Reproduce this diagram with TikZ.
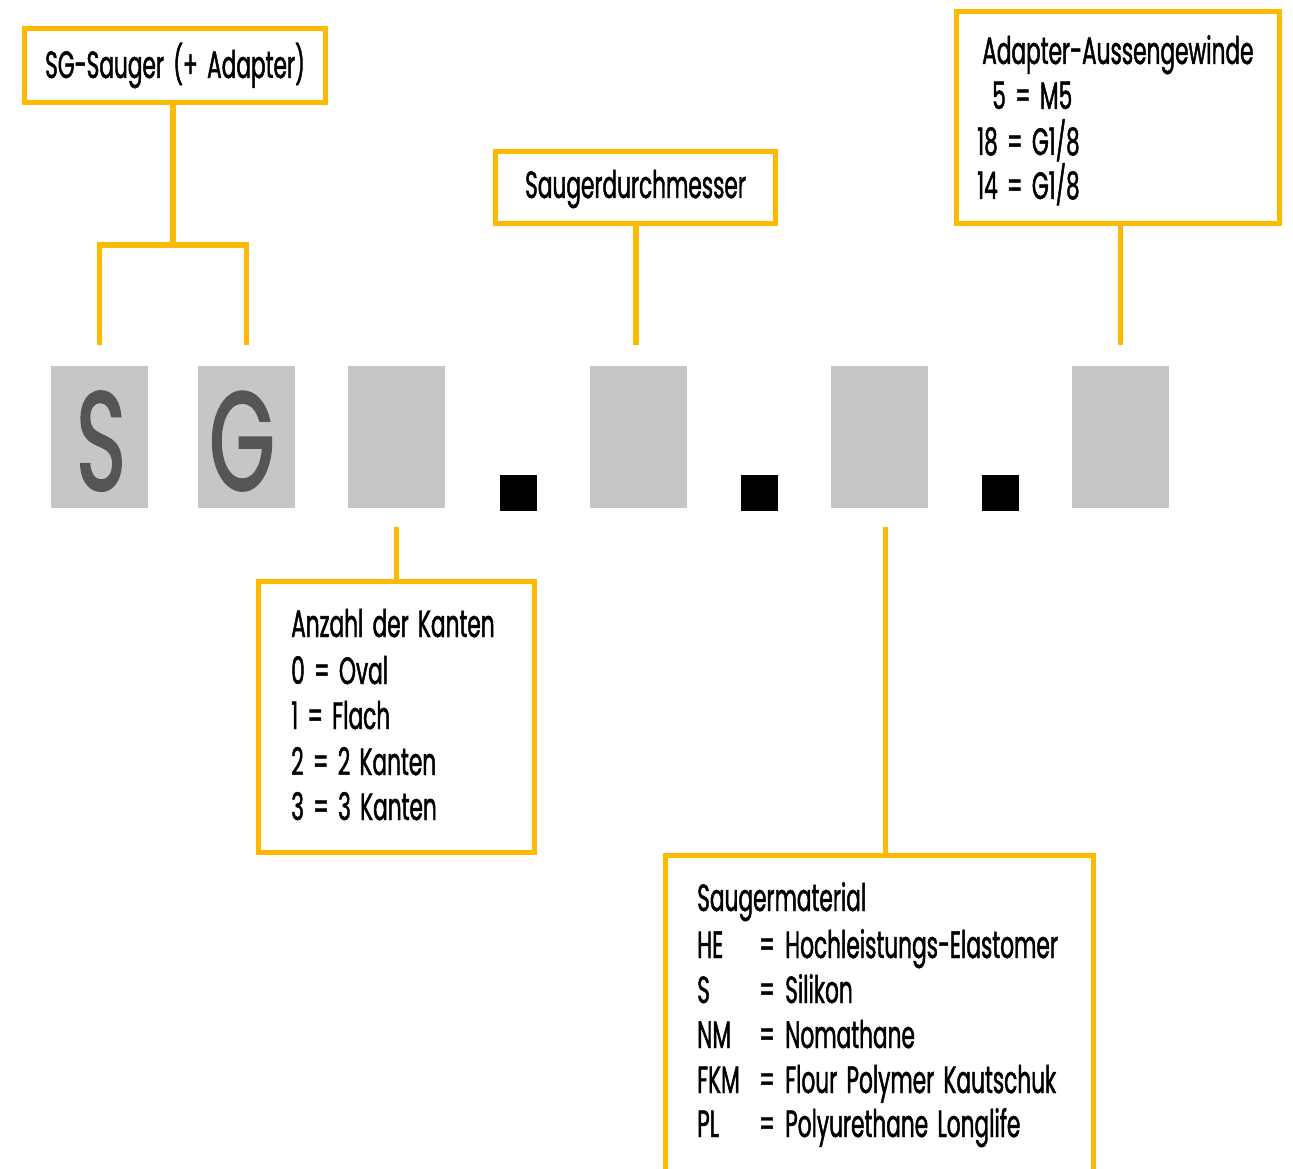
\documentclass[tikz,border=0pt]{standalone}
\usepackage{fontspec}
\usepackage{graphicx}
\setmainfont[FakeStretch=0.57,FakeBold=1.2,WordSpace=1.6]{Poppins}
\newfontfamily\bigfont[FakeStretch=0.6,FakeBold=1.5]{Poppins}
\definecolor{gelb}{RGB}{254,186,0}
\definecolor{zelle}{RGB}{198,198,198}
\definecolor{buchst}{RGB}{85,85,85}
\tikzset{
  infobox/.style={draw=gelb, line width=5pt, fill=white, rectangle, inner sep=0pt},
  conn/.style={draw=gelb, line width=5.5pt},
  cell/.style={fill=zelle, rectangle, inner sep=0pt, minimum width=97pt, minimum height=142pt},
  dot/.style={fill=black, rectangle, inner sep=0pt, minimum width=37pt, minimum height=36pt},
  txt/.style={anchor=base west, inner sep=0pt, font=\fontsize{38}{45}\selectfont},
  bigletter/.style={text=buchst, inner sep=0pt, font=\bigfont\fontsize{140}{140}\selectfont}
}
\newcommand{\kuerzel}[2]{\makebox[62pt][l]{#1}\makebox[26pt][l]{=}#2}
\begin{document}
\begin{tikzpicture}[x=1pt,y=-1pt]
\clip (0,0) rectangle (1293,1169);
\fill[white] (0,0) rectangle (1293,1169);

% cells
\node[cell] (c1) at (99.5,437) {};
\node[cell] (c2) at (246.5,437) {};
\node[cell] (c3) at (396.5,437) {};
\node[dot]  (d1) at (518.5,493) {};
\node[cell] (c4) at (638.5,437) {};
\node[dot]  (d2) at (759.5,493) {};
\node[cell] (c5) at (879.5,437) {};
\node[dot]  (d3) at (1000.5,493) {};
\node[cell] (c6) at (1120.5,437) {};
\node[bigletter, anchor=base] (ls) at (101,490) {S};
\node[bigletter, anchor=base] (lg) at (242,490) {G};

% boxes
\node[infobox, minimum width=301pt, minimum height=74pt] (sg) at (175,65.5) {};
\node[txt, anchor=base] (sgt) at (175,78) {SG-Sauger (+ Adapter)};

\node[infobox, minimum width=280pt, minimum height=72pt] (sd) at (635.5,187.5) {};
\node[txt, anchor=base] (sdt) at (635.5,198) {Saugerdurchmesser};

\node[infobox, minimum width=323pt, minimum height=212pt] (ad) at (1118,117.5) {};
\node[txt] (adt) at (982,64) {Adapter-Aussengewinde};
\node[txt] (ad1) at (992,109) {5 = M5};
\node[txt] (ad2) at (977,155) {18 = G1/8};
\node[txt] (ad3) at (977,199) {14 = G1/8};

\node[infobox, minimum width=276pt, minimum height=271pt] (ak) at (396.5,717) {};
\node[txt] (ak0) at (291,637) {Anzahl der Kanten};
\node[txt] (ak1) at (291,684) {0 = Oval};
\node[txt] (ak2) at (291,729) {1 = Flach};
\node[txt] (ak3) at (291,775) {2 = 2 Kanten};
\node[txt] (ak4) at (291,820) {3 = 3 Kanten};

\node[infobox, minimum width=428pt, minimum height=330pt] (sm) at (879.5,1020.5) {};
\node[txt] (sm0) at (697,911) {Saugermaterial};
\node[txt] (sm1) at (697,958) {\kuerzel{HE}{Hochleistungs-Elastomer}};
\node[txt] (sm2) at (697,1003) {\kuerzel{S}{Silikon}};
\node[txt] (sm3) at (697,1048) {\kuerzel{NM}{Nomathane}};
\node[txt] (sm4) at (697,1093) {\kuerzel{FKM}{Flour Polymer Kautschuk}};
\node[txt] (sm5) at (697,1137) {\kuerzel{PL}{Polyurethane Longlife}};

% connectors
\coordinate (br) at (0,245);
\draw[conn] ([yshift=21pt]c1.north) |- (br -| c2.north) -- ([yshift=21pt]c2.north);
\draw[conn] (sg.south -| 173,0) -- (br -| 173,0);
\draw[conn] (sd.south -| 636,0) -- ([yshift=21pt]c4.north -| 636,0);
\draw[conn] (ad.south -| c6.north) -- ([yshift=21pt]c6.north);
\draw[conn] ([yshift=-19pt]c3.south) -- (ak.north -| c3.south);
\draw[conn] ([yshift=-19pt,xshift=6pt]c5.south) -- (sm.north -| 885.5,0);
\end{tikzpicture}
\end{document}
